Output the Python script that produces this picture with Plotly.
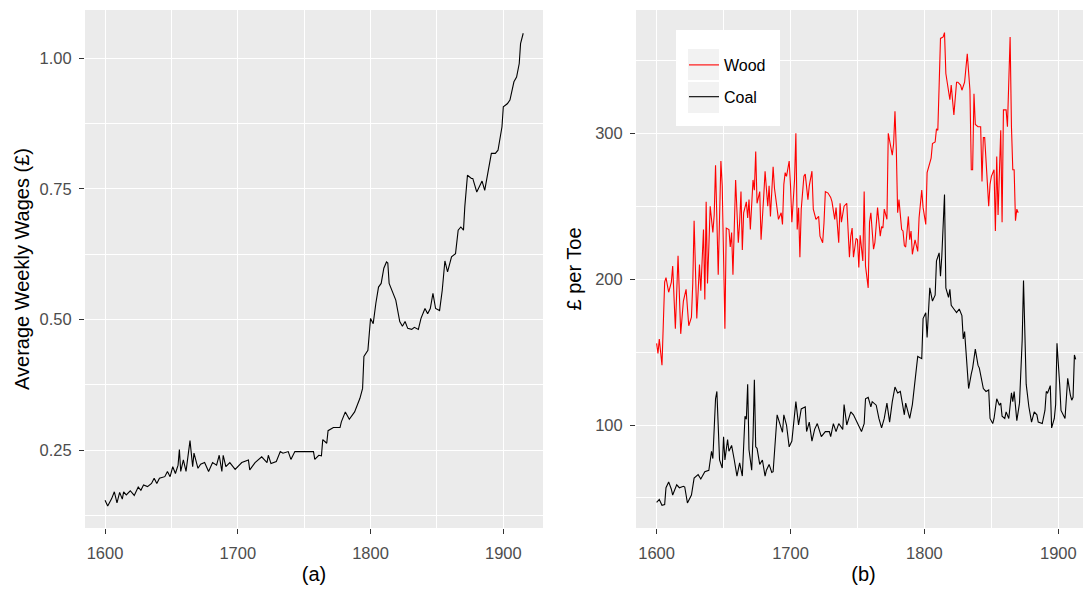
import plotly.graph_objects as go

# ---------------- data ----------------
wage_years = [1600, 1602, 1605, 1607, 1609, 1611, 1613, 1614, 1616, 1619, 1622, 1625, 1627, 1629,
              1632, 1635, 1637, 1639, 1641, 1645, 1647, 1649, 1651, 1653, 1655, 1656, 1657, 1659,
              1661, 1663, 1664, 1666, 1667, 1670, 1672, 1675, 1678, 1681, 1684, 1686, 1688, 1689,
              1691, 1694, 1698, 1703, 1708, 1709, 1713, 1718, 1722, 1723, 1725, 1729, 1732, 1734,
              1738, 1740, 1743, 1749, 1757, 1758, 1761, 1763, 1764, 1767, 1768, 1772, 1777, 1778,
              1781, 1784, 1788, 1792, 1794, 1795, 1798, 1800, 1802, 1804, 1806, 1808, 1810, 1812,
              1813, 1814, 1817, 1819, 1822, 1824, 1826, 1828, 1831, 1833, 1836, 1838, 1841, 1843,
              1845, 1847, 1849, 1852, 1854, 1856, 1858, 1861, 1864, 1866, 1868, 1870, 1871, 1873,
              1876, 1877, 1880, 1884, 1886, 1889, 1891, 1894, 1896, 1899, 1900, 1903, 1905, 1908,
              1910, 1912, 1913, 1915]
wage_values = [0.154, 0.143, 0.157, 0.170, 0.149, 0.169, 0.156, 0.170, 0.164, 0.172, 0.163, 0.179,
               0.173, 0.183, 0.180, 0.186, 0.196, 0.186, 0.196, 0.199, 0.209, 0.199, 0.218, 0.205,
               0.221, 0.251, 0.209, 0.231, 0.209, 0.244, 0.268, 0.218, 0.244, 0.215, 0.223, 0.226,
               0.209, 0.226, 0.221, 0.240, 0.209, 0.240, 0.218, 0.226, 0.213, 0.226, 0.231, 0.212,
               0.226, 0.237, 0.226, 0.240, 0.224, 0.228, 0.247, 0.244, 0.247, 0.232, 0.247, 0.247,
               0.247, 0.232, 0.240, 0.239, 0.270, 0.263, 0.287, 0.293, 0.293, 0.304, 0.323, 0.309,
               0.323, 0.349, 0.368, 0.429, 0.441, 0.502, 0.492, 0.531, 0.562, 0.569, 0.598, 0.610,
               0.608, 0.569, 0.550, 0.537, 0.496, 0.487, 0.496, 0.483, 0.481, 0.485, 0.481, 0.502,
               0.521, 0.511, 0.521, 0.550, 0.521, 0.517, 0.556, 0.612, 0.591, 0.620, 0.626, 0.671,
               0.677, 0.671, 0.716, 0.776, 0.770, 0.770, 0.744, 0.765, 0.747, 0.786, 0.818, 0.818,
               0.824, 0.869, 0.907, 0.913, 0.920, 0.955, 0.964, 0.990, 1.028, 1.048]

coal_years = [1600, 1602, 1604, 1606, 1607, 1609, 1611, 1612, 1615, 1617, 1620, 1621, 1623, 1626,
              1628, 1631, 1633, 1636, 1639, 1641, 1642, 1644, 1645, 1646, 1647, 1649, 1650, 1651,
              1653, 1654, 1656, 1658, 1660, 1662, 1664, 1666, 1667, 1668, 1669, 1671, 1672, 1673,
              1674, 1675, 1677, 1679, 1681, 1682, 1684, 1686, 1687, 1690, 1692, 1694, 1695, 1697,
              1699, 1701, 1704, 1706, 1708, 1711, 1712, 1714, 1716, 1718, 1720, 1723, 1726, 1729,
              1730, 1732, 1734, 1736, 1739, 1740, 1742, 1745, 1747, 1750, 1753, 1755, 1756, 1758,
              1760, 1761, 1764, 1766, 1768, 1770, 1772, 1774, 1776, 1778, 1780, 1782, 1785, 1786,
              1789, 1791, 1793, 1795, 1798, 1799, 1801, 1802, 1804, 1806, 1808, 1809, 1811, 1812,
              1813, 1815, 1816, 1818, 1819, 1820, 1822, 1824, 1826, 1828, 1829, 1830, 1831, 1833,
              1835, 1836, 1838, 1840, 1841, 1844, 1846, 1848, 1849, 1851, 1852, 1854, 1856, 1857,
              1858, 1860, 1861, 1863, 1865, 1866, 1867, 1869, 1871, 1873, 1874, 1875, 1876, 1878,
              1880, 1882, 1884, 1885, 1888, 1890, 1891, 1892, 1894, 1895, 1897, 1898, 1899, 1901,
              1902, 1905, 1907, 1909, 1910, 1911, 1912, 1913]
coal_values = [47, 49, 45, 45.5, 57, 61, 56, 52, 59, 57, 58, 57.5, 46.6, 52, 63.6, 66, 63, 68, 69,
               82, 77, 118, 123, 101, 76, 70.5, 92, 76, 90, 82, 86, 76, 65, 74, 65, 106, 104, 128,
               83, 69, 92, 131, 85, 84, 73, 76, 65, 69, 73, 67.5, 68, 107, 100, 95, 107, 100, 85,
               89, 116, 100, 111, 112.5, 95.5, 102, 89, 97, 101, 92, 95.5, 95.5, 92, 101, 95.5,
               101, 97, 114, 100, 109, 107, 101, 95.5, 101, 118, 119, 112.5, 116, 113.6, 104.5, 98,
               104.5, 115, 102, 116, 126, 122, 123, 107, 115, 104.5, 114, 131, 147, 145.5, 173,
               177, 160, 194, 185, 189, 212.5, 218, 202, 216, 258, 194, 187.5, 193, 182, 179.5,
               177, 179.5, 175, 159, 164, 151, 125, 135, 139, 152, 141, 139, 125, 123, 124, 104.5,
               101, 104.5, 118, 113.6, 115, 106, 104.5, 109, 104.5, 122, 116, 123, 103, 115, 158,
               199, 161, 128, 112.5, 102, 109, 107, 102, 101, 110, 123, 122, 127, 98, 104.5, 114,
               156, 128, 110, 104.5, 132, 120.5, 117, 119, 148, 145]

wood_years = [1600, 1601, 1602, 1604, 1606, 1607, 1609, 1611, 1612, 1614, 1616, 1618, 1620, 1622,
              1624, 1626, 1627, 1628, 1629, 1630, 1632, 1633, 1635, 1636, 1637, 1638, 1639, 1640,
              1642, 1643, 1644, 1645, 1646, 1648, 1649, 1651, 1652, 1654, 1655, 1656, 1657, 1659,
              1661, 1662, 1663, 1664, 1665, 1667, 1668, 1669, 1670, 1672, 1673, 1674, 1675, 1677,
              1678, 1680, 1681, 1683, 1684, 1685, 1687, 1688, 1690, 1691, 1693, 1694, 1695, 1696,
              1697, 1699, 1700, 1701, 1703, 1704, 1705, 1706, 1707, 1708, 1710, 1711, 1713, 1714,
              1716, 1717, 1719, 1721, 1722, 1724, 1725, 1726, 1728, 1730, 1731, 1733, 1734, 1736,
              1737, 1738, 1740, 1742, 1744, 1745, 1746, 1747, 1749, 1750, 1751, 1752, 1754, 1755,
              1756, 1758, 1759, 1760, 1762, 1763, 1765, 1767, 1768, 1769, 1770, 1772, 1773, 1775,
              1776, 1777, 1778, 1779, 1780, 1781, 1783, 1784, 1785, 1786, 1788, 1789, 1790, 1791,
              1793, 1794, 1795, 1796, 1798, 1799, 1801, 1802, 1804, 1805, 1806, 1808, 1809, 1810,
              1811, 1812, 1814, 1815, 1816, 1817, 1819, 1820, 1821, 1822, 1824, 1825, 1827, 1828,
              1830, 1831, 1832, 1834, 1835, 1836, 1837, 1838, 1840, 1842, 1843, 1844, 1845, 1847,
              1848, 1849, 1850, 1852, 1853, 1854, 1855, 1857, 1858, 1859, 1861, 1862, 1864, 1865,
              1866, 1867, 1868, 1869, 1870]
wood_values = [156, 149, 159, 141, 198, 201, 191, 198, 209, 166, 216, 162.5, 185, 193, 168, 174,
               197, 240, 207, 173, 210, 192, 234, 186, 253, 197, 222, 250, 232, 244, 278, 239, 203,
               281, 264, 166, 235, 234, 222, 232, 203, 268, 225, 239, 260, 220, 245.5, 253, 242,
               254.5, 234, 268, 261, 287.5, 252, 260, 227, 257, 274, 250, 264, 243, 277, 262.5, 248,
               241, 245.5, 237.5, 265, 273, 270.5, 281, 264, 239, 268, 300, 234, 249, 215, 248,
               270.5, 272, 254.5, 264, 274, 248, 241, 243, 229.5, 225, 238.6, 260, 259, 256, 253,
               241, 249, 225, 252, 239, 250, 252, 215, 229.5, 235, 215, 228, 227, 208, 230, 212.5,
               260, 209, 194, 239, 245.5, 220.5, 225, 249, 229.5, 236, 235, 248, 241, 300, 289,
               285, 293, 315, 289, 245.5, 254.5, 234, 233, 223, 222, 243, 227, 233, 217, 227, 223,
               219, 242, 261, 249, 237.5, 273, 279.5, 283, 293, 294, 303, 302, 333, 365, 366, 369,
               341, 334, 323, 333, 320.5, 312.5, 335, 335, 333, 329.5, 335, 347, 354.5, 329.5, 275,
               275, 327, 306, 304.5, 304.5, 267, 297, 297, 266, 250, 265, 270.5, 275, 233, 284, 244,
               302, 239, 316, 316, 304.5, 366, 304.5, 275, 275, 240, 248, 245.5]

x_ticks = [1600, 1700, 1800, 1900]
wage_ticks = [0.25, 0.50, 0.75, 1.00]
price_ticks = [100, 200, 300]

# ---------------- layout helpers ----------------
W, H = 1091, 590
OFF = 8  # the page body has an 8px default margin; positions below are screen pixels
FONT = "Liberation Sans, Arial, Helvetica, sans-serif"


def fx(p):
    return (p - OFF) / W


def fy(p):
    return 1 - (p - OFF) / H


fig = go.Figure()
fig.add_trace(go.Scatter(x=wage_years, y=wage_values, mode="lines",
                         line=dict(color="black", width=1.1), xaxis="x", yaxis="y",
                         showlegend=False))
fig.add_trace(go.Scatter(x=wood_years, y=wood_values, mode="lines", name="Wood",
                         line=dict(color="#FF0000", width=1.1), xaxis="x2", yaxis="y2",
                         legendgroup="wood"))
fig.add_trace(go.Scatter(x=coal_years, y=coal_values, mode="lines", name="Coal",
                         line=dict(color="black", width=1.1), xaxis="x2", yaxis="y2",
                         legendgroup="coal"))

axis_common = dict(
    showgrid=True, gridcolor="white", gridwidth=1.1, zeroline=False, showline=False,
    ticks="outside", ticklen=5, tickwidth=1, tickcolor="#333333", automargin=False,
    tickfont=dict(family=FONT, size=16.5, color="#4D4D4D"),
    title_font=dict(family=FONT, size=20, color="black"),
)

ydom = [fy(528), fy(10)]

fig.update_layout(
    width=W, height=H,
    margin=dict(l=0, r=0, t=0, b=0, autoexpand=False),
    paper_bgcolor="white", plot_bgcolor="#EBEBEB",
    font=dict(family=FONT),
    xaxis=dict(domain=[fx(85), fx(543)], range=[1584.9, 1929.9], tickvals=x_ticks,
               ticklabelstandoff=5,
               minor=dict(dtick=50, tick0=1600, showgrid=True, gridcolor="white", gridwidth=0.55),
               title=dict(text="(a)", standoff=6), anchor="y", **axis_common),
    yaxis=dict(domain=ydom, range=[0.1007, 1.0925], tickvals=wage_ticks, tickformat=".2f",
               ticklabelstandoff=4,
               minor=dict(dtick=0.125, tick0=0, showgrid=True, gridcolor="white", gridwidth=0.55),
               title=dict(text="Average Weekly Wages (£)", standoff=4), anchor="x", **axis_common),
    xaxis2=dict(domain=[fx(636), fx(1091)], range=[1584.6, 1924.4], tickvals=x_ticks,
                ticklabelstandoff=5,
                minor=dict(dtick=50, tick0=1600, showgrid=True, gridcolor="white", gridwidth=0.55),
                title=dict(text="(b)", standoff=6), anchor="y2", **axis_common),
    yaxis2=dict(domain=ydom, range=[29.4, 384.5], tickvals=price_ticks,
                ticklabelstandoff=4,
                minor=dict(dtick=50, tick0=0, showgrid=True, gridcolor="white", gridwidth=0.55),
                title=dict(text="£ per Toe", standoff=8), anchor="x2", **axis_common),
    legend=dict(x=fx(684), y=fy(48), xanchor="left", yanchor="top",
                bgcolor="rgba(0,0,0,0)", borderwidth=0, tracegroupgap=8,
                font=dict(family=FONT, size=16, color="black")),
    shapes=[
        dict(type="rect", xref="paper", yref="paper", x0=fx(676), x1=fx(780), y0=fy(126), y1=fy(30),
             fillcolor="white", line=dict(width=0), layer="above"),
        dict(type="rect", xref="paper", yref="paper", x0=fx(688), x1=fx(719), y0=fy(80), y1=fy(49),
             fillcolor="#F2F2F2", line=dict(width=0), layer="above"),
        dict(type="rect", xref="paper", yref="paper", x0=fx(688), x1=fx(719), y0=fy(113), y1=fy(82),
             fillcolor="#F2F2F2", line=dict(width=0), layer="above"),
    ],
)

fig.write_html("out.html")
